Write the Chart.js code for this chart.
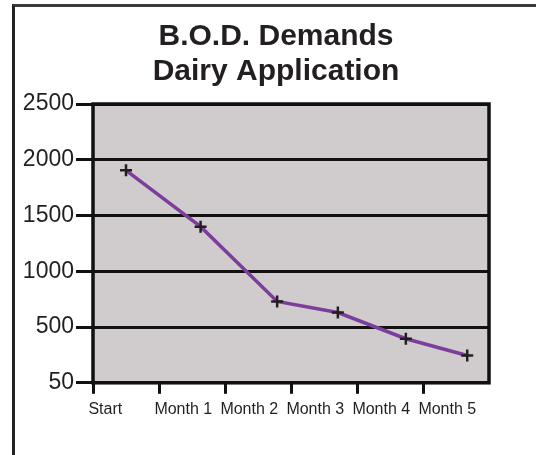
<!DOCTYPE html>
<html>
<head>
<meta charset="utf-8">
<script src="https://cdn.jsdelivr.net/npm/chart.js@4"></script>
<style>
  html, body { margin: 0; padding: 0; background: #fff; overflow: hidden; }
  #wrap { position: relative; width: 536px; height: 455px; }
  #frame { position: absolute; left: 12px; top: 4px; width: 600px; height: 600px;
           border-top: 3px solid #3a3a3a; border-left: 3px solid #222; }
  canvas { position: absolute; left: 0; top: 0; }
</style>
</head>
<body>
<div id="wrap"><div id="frame"></div><canvas id="chart" width="536" height="455"></canvas></div>
<script>
"use strict";

// ── Data ────────────────────────────────────────────────────────────────
const titleLines = ["B.O.D. Demands", "Dairy Application"];
const periods = ["Start", "Month 1", "Month 2", "Month 3", "Month 4", "Month 5"];
const yTickLabels = ["50", "500", "1000", "1500", "2000", "2500"];
// where each sample sits along the month axis, and its B.O.D. value
const sampleAt = [0.5, 1.63, 2.79, 3.71, 4.74, 5.67];
const bod = [1905, 1400, 730, 630, 395, 245];

const INK = "#231f20";
const FONT = "'Liberation Sans', Arial, sans-serif";

// grey plot panel + black frame round it
const plotFrame = {
  id: "plotFrame",
  beforeDraw(chart) {
    const { ctx, chartArea: a } = chart;
    ctx.save();
    ctx.fillStyle = "#d0cbcd";
    ctx.fillRect(a.left, a.top, a.width, a.height);
    ctx.restore();
  },
  beforeDatasetsDraw(chart) {
    const { ctx, chartArea: a } = chart;
    ctx.save();
    ctx.strokeStyle = "#111";
    ctx.lineWidth = 3.5;
    ctx.strokeRect(a.left, a.top, a.width, a.height);
    ctx.restore();
  },
};

const intTicks = (axis) => { axis.ticks = periods.map((_, i) => ({ value: i })); };

new Chart(document.getElementById("chart"), {
  type: "line",
  data: {
    datasets: [{
      data: sampleAt.map((x, i) => ({ x, y: bod[i] })),
      borderColor: "#7b3f9b",
      borderWidth: 3.5,
      tension: 0,
      pointStyle: "cross",
      pointRadius: 6,
      pointBorderWidth: 2.5,
      pointBorderColor: INK,
      pointBackgroundColor: INK,
    }],
  },
  options: {
    responsive: false,
    animation: false,
    layout: { padding: { left: 16, right: 0, top: 0, bottom: 38 } },
    plugins: {
      legend: { display: false },
      tooltip: { enabled: false },
      title: {
        display: true,
        text: titleLines,
        color: INK,
        font: { family: FONT, size: 30, weight: "bold", lineHeight: 35 / 30 },
        padding: { top: 19, bottom: 15 },
      },
    },
    scales: {
      x: {
        type: "linear", min: 0, max: 6,
        afterBuildTicks: intTicks,
        border: { display: false },
        grid: { drawOnChartArea: false, drawTicks: true, tickLength: 11, color: "#111", lineWidth: 3 },
        ticks: { display: false },
      },
      xl: {
        type: "linear", position: "bottom", axis: "x", min: 0.07, max: 6.07,
        afterBuildTicks: intTicks,
        border: { display: false },
        grid: { display: false },
        ticks: {
          align: "start", padding: -2, autoSkip: false, maxRotation: 0,
          color: INK, font: { family: FONT, size: 16 },
          callback: (v, i) => periods[i],
        },
      },
      y: {
        min: 0, max: 2500,
        afterFit: (axis) => { axis.width = 77; },
        border: { display: false },
        grid: { color: "#111", lineWidth: 3, tickLength: 17 },
        ticks: {
          stepSize: 500, padding: 2, color: INK, font: { family: FONT, size: 23 },
          callback: (v, i) => yTickLabels[i],
        },
      },
      // empty right-hand margin so the title centres over the whole card
      yr: {
        position: "right", axis: "y", min: 0, max: 2500,
        afterFit: (axis) => { axis.width = 47; },
        border: { display: false },
        grid: { display: false },
        ticks: { display: false },
      },
    },
  },
  plugins: [plotFrame],
});
</script>
</body>
</html>
